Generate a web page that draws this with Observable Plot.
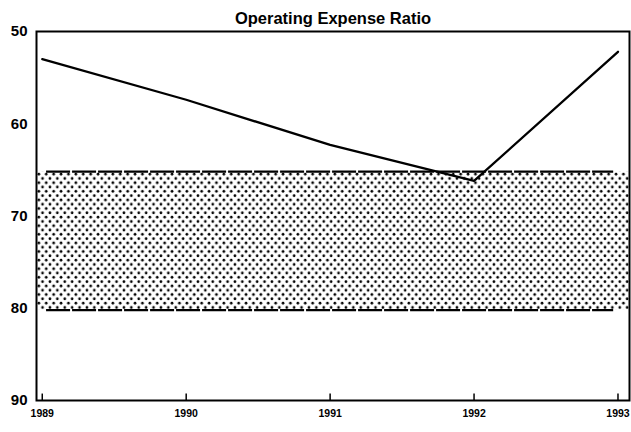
<!DOCTYPE html>
<html>
<head>
<meta charset="utf-8">
<script src="https://cdn.jsdelivr.net/npm/d3@7"></script>
<script src="https://cdn.jsdelivr.net/npm/@observablehq/plot@0.6"></script>
<style>
  html, body { margin: 0; padding: 0; background: #fff; }
  svg { font-family: "Liberation Sans", Arial, sans-serif; }
</style>
</head>
<body>
<div id="chart"></div>
<script>
const title = "Operating Expense Ratio";
const years = [1989, 1990, 1991, 1992, 1993];
const ratio = [53.0, 57.4, 62.3, 66.2, 52.2];
const bandLow = 65.2;
const bandHigh = 80.2;
const yTicks = [50, 60, 70, 80, 90];

const data = years.map((year, i) => ({year, value: ratio[i]}));
const band = [{y1: bandLow, y2: bandHigh}];

const chart = Plot.plot({
  width: 631,
  height: 432,
  marginLeft: 36,
  marginRight: 2,
  marginTop: 31,
  marginBottom: 32,
  style: {fontFamily: "'Liberation Sans', Arial, sans-serif", background: "#fff", color: "#000"},
  x: {domain: [1988.96, 1993.08], ticks: years, tickFormat: "d"},
  y: {domain: [50, 90], reverse: true, ticks: yTicks},
  marks: [
    Plot.rect(band, {x1: 1988.96, x2: 1993.08, y1: "y1", y2: "y2", fill: "url(#dots)"}),
    Plot.ruleY([bandLow, bandHigh], {x1: 1989.03, x2: 1992.97, stroke: "#000", strokeWidth: 2.2, strokeDasharray: "24,2"}),
    Plot.ruleX(years, {y1: 90, y2: 89.3, stroke: "#000", strokeWidth: 1.5}),
    Plot.line(data, {x: "year", y: "value", stroke: "#000", strokeWidth: 2.3}),
    Plot.frame({stroke: "#000", strokeWidth: 2}),
    Plot.axisY({ticks: yTicks, tickSize: 0, tickPadding: 9, fontSize: 15, fontWeight: "bold", label: null}),
    Plot.axisX({ticks: years, tickFormat: "d", tickSize: 0, tickPadding: 9, fontSize: 10.5, fontWeight: "bold", label: null}),
    Plot.text([title], {frameAnchor: "top", dy: -19, fontSize: 16.5, fontWeight: "bold", fill: "#000"})
  ]
});

// dot pattern definition for the shaded band
const ns = "http://www.w3.org/2000/svg";
const defs = document.createElementNS(ns, "defs");
const pat = document.createElementNS(ns, "pattern");
pat.setAttribute("id", "dots");
pat.setAttribute("patternUnits", "userSpaceOnUse");
pat.setAttribute("width", "7.4");
pat.setAttribute("height", "8.6");
[[1.85, 2.15], [5.55, 6.45]].forEach(([cx, cy]) => {
  const c = document.createElementNS(ns, "circle");
  c.setAttribute("cx", cx);
  c.setAttribute("cy", cy);
  c.setAttribute("r", "1.35");
  c.setAttribute("fill", "#000");
  pat.appendChild(c);
});
defs.appendChild(pat);
chart.insertBefore(defs, chart.firstChild);

document.getElementById("chart").appendChild(chart);
</script>
</body>
</html>
